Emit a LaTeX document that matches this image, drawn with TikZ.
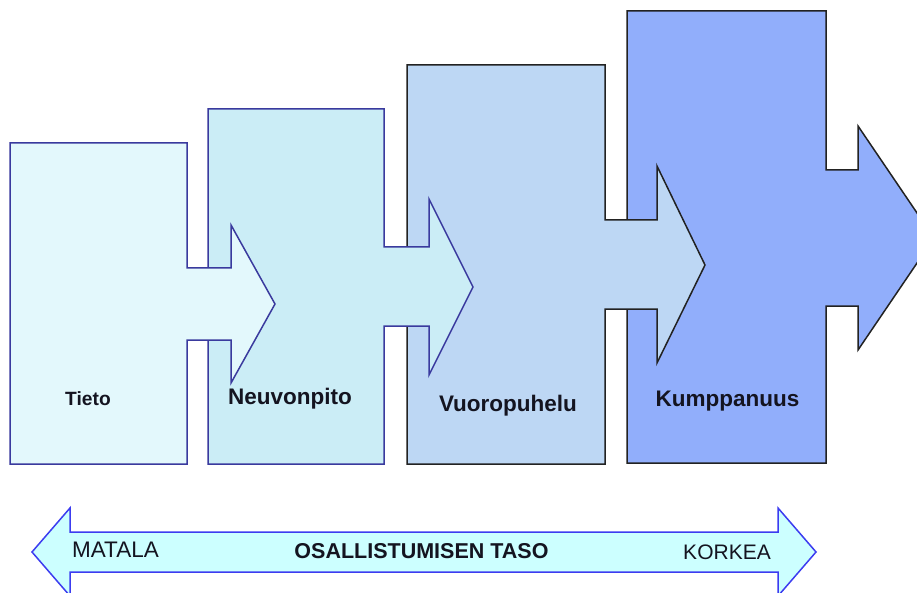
\documentclass[tikz,border=0pt]{standalone}
\usepackage{fontspec}
\setmainfont{Liberation Sans}
\definecolor{fillA}{HTML}{E3F8FC}
\definecolor{fillB}{HTML}{CBEDF6}
\definecolor{fillC}{HTML}{BDD7F4}
\definecolor{fillD}{HTML}{91AEFB}
\definecolor{edgeAB}{HTML}{3A3A9E}
\definecolor{edgeCD}{HTML}{222222}
\definecolor{scaleFill}{HTML}{CCFFFF}
\definecolor{scaleEdge}{HTML}{3C3CF0}
\definecolor{txt}{HTML}{141420}
\begin{document}
\begin{tikzpicture}[x=1pt,y=-1pt,
  blockAB/.style={draw=edgeAB,line width=1.5pt,line join=miter},
  blockCD/.style={draw=edgeCD,line width=1.5pt,line join=miter},
  steplabel/.style={font=\fontsize{22.5}{26}\selectfont\bfseries,text=txt,anchor=base,inner sep=0pt},
  scalelabel/.style={font=\fontsize{21}{24}\selectfont,text=txt,anchor=base,inner sep=0pt}]
\useasboundingbox (0,0) rectangle (917,593);
% step 4 (bottom of stack)
\path[blockCD,fill=fillD] (627,11) -- (826,11) -- (826,170) -- (858,170) -- (858,126) -- (934,238)
  -- (858,350) -- (858,306) -- (826,306) -- (826,463) -- (627,463) -- cycle;
% step 3
\path[blockCD,fill=fillC] (407,65) -- (605,65) -- (605,220) -- (657,220) -- (657,166) -- (705,265)
  -- (657,363) -- (657,309) -- (605,309) -- (605,464) -- (407,464) -- cycle;
% step 2
\path[blockAB,fill=fillB] (208,109) -- (384,109) -- (384,247) -- (429,247) -- (429,199) -- (473,287)
  -- (429,375) -- (429,326) -- (384,326) -- (384,464) -- (208,464) -- cycle;
% step 1
\path[blockAB,fill=fillA] (10,143) -- (187,143) -- (187,268) -- (231,268) -- (231,225) -- (275,304)
  -- (231,383) -- (231,340) -- (187,340) -- (187,464) -- (10,464) -- cycle;
% labels
\node[steplabel,font=\fontsize{19.2}{22}\selectfont\bfseries] (tieto) at (88,405) {Tieto};
\node[steplabel] (neuvonpito) at (290,404) {Neuvonpito};
\node[steplabel] (vuoropuhelu) at (508,411) {Vuoropuhelu};
\node[steplabel] (kumppanuus) at (727.5,406.5) {Kumppanuus};
% participation scale
\path[draw=scaleEdge,line width=1.5pt,fill=scaleFill,line join=miter]
  (32,552) -- (70,508) -- (70,532) -- (778,532) -- (778,508) -- (816,552)
  -- (778,596) -- (778,572) -- (70,572) -- (70,596) -- cycle;
\node[scalelabel,font=\fontsize{22.5}{26}\selectfont] (matala) at (115.5,557.5) {MATALA};
\node[scalelabel] (korkea) at (727,559) {KORKEA};
\node[scalelabel,font=\fontsize{21.5}{25}\selectfont\bfseries] (taso) at (421.5,558.5) {OSALLISTUMISEN TASO};
\end{tikzpicture}
\end{document}
